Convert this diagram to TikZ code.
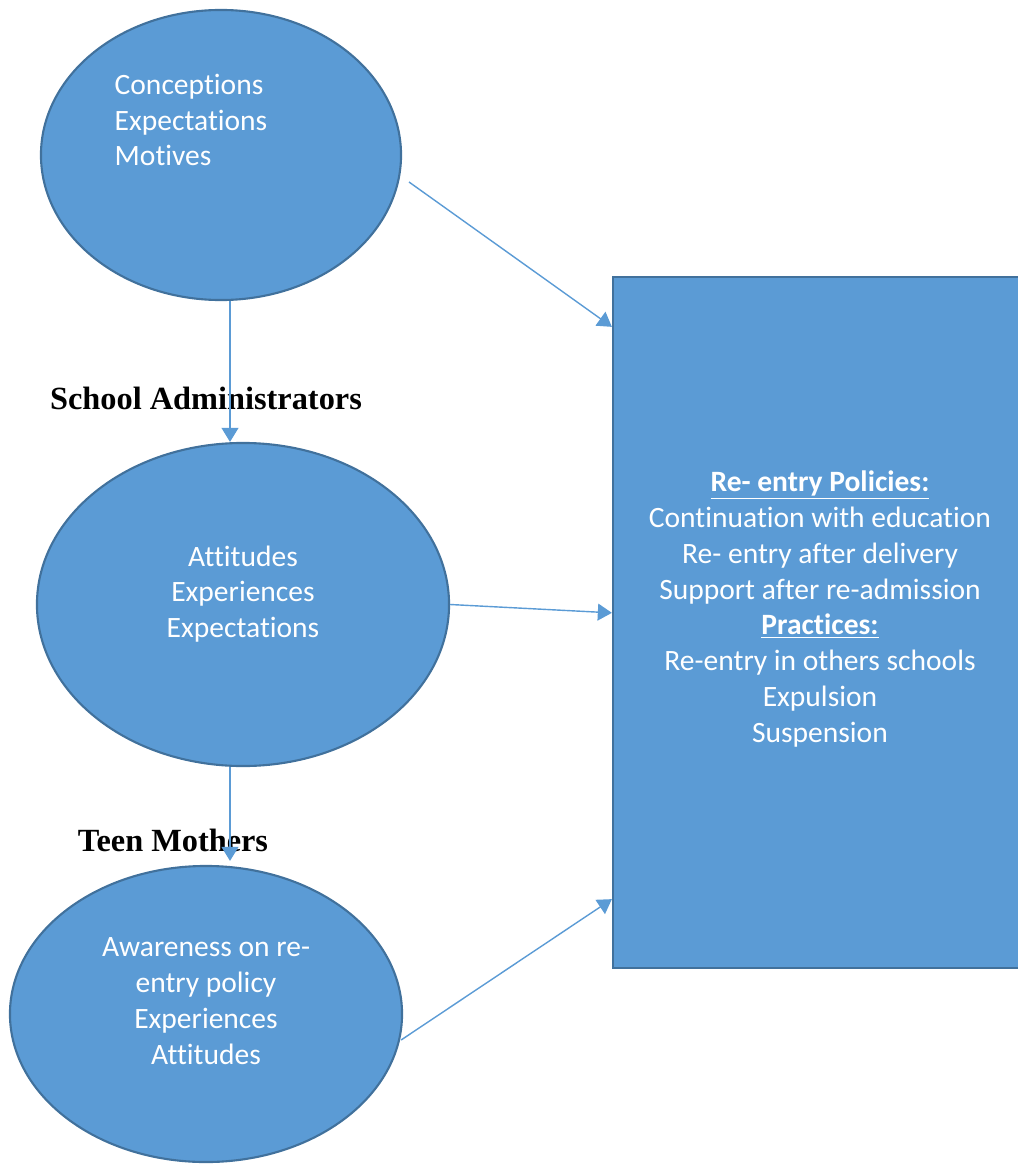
\documentclass[tikz,border=0pt]{standalone}
\usepackage{fontspec}
\setmainfont{Liberation Serif}
\newfontfamily\calibri[Ligatures=NoCommon]{Carlito}
\usetikzlibrary{shapes.geometric,arrows.meta,calc}
\definecolor{fillblue}{HTML}{5B9BD5}
\definecolor{edgeblue}{HTML}{41719C}
\tikzset{
  bubble/.style={ellipse,draw=edgeblue,line width=1.5pt,fill=fillblue,inner sep=0pt},
  policybox/.style={rectangle,draw=edgeblue,line width=1.5pt,fill=fillblue,inner sep=0pt},
  txt/.style={text=white,font=\calibri\fontsize{21}{25.5}\selectfont},
  link/.style={draw=fillblue,line width=1pt,-{Triangle[length=10pt,width=12pt]}},
  head/.style={font=\bfseries\fontsize{23}{27}\selectfont}
}

\begin{document}
\begin{tikzpicture}[x=0.025cm,y=-0.025cm]
\clip (0,0) rectangle (1018,1164);
% group labels
\node[head] (lab1) at (206,398) {School Administrators};
\node[head] (lab2) at (173,840) {Teen Mothers};
% ellipses and box
\node[bubble,minimum width=9cm,minimum height=7.25cm] (e1) at (221,155) {};
\node[bubble,minimum width=10.3cm,minimum height=8.075cm] (e2) at (243,604.5) {};
\node[bubble,minimum width=9.8cm,minimum height=7.4cm] (e3) at (206,1014) {};
\node[policybox,minimum width=10.3cm,minimum height=17.275cm] (box) at (819,622.5) {};
% texts
\node[txt,align=left] (t1) at (191,120) {Conceptions\\Expectations\\Motives};
\node[txt,align=center] (t2) at (243,594) {Attitudes\\Experiences\\Expectations};
\node[txt,align=center] (t3) at (206,1001) {Awareness on re-\\entry policy\\Experiences\\Attitudes};
\node[txt,align=center] (t4) at (820,609) {\textbf{\underline{Re- entry Policies:}}\\Continuation with education\\Re- entry after delivery\\Support after re-admission\\\textbf{\underline{Practices:}}\\Re-entry in others schools\\Expulsion\\Suspension};
% connectors
\coordinate (s1) at (409,182);
\draw[link] (s1) -- ($(box.north west)+(0,51)$);
\draw[link] ($(e1.south)+(9,0)$) -- ($(e2.north)+(-13,0)$);
\draw[link] (e2.east) -- ($(box.north west)+(0,337)$);
\draw[link] ($(e2.south)+(-13,0)$) -- ($(e3.north)+(24,-4)$);
\draw[link] ($(e3.east)+(-2,26)$) -- ($(box.south west)+(0,-70)$);
\end{tikzpicture}
\end{document}
